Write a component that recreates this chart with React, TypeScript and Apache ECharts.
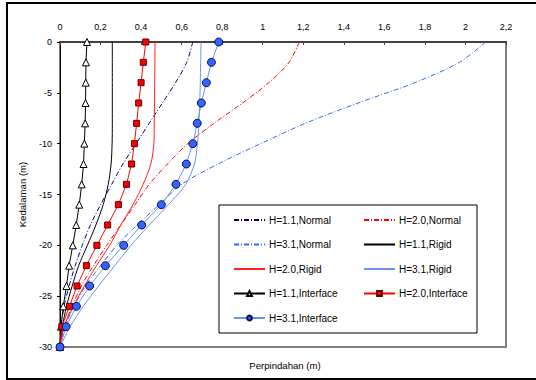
import React, { useEffect, useRef } from "react";
import * as echarts from "echarts";

const depths = [0, -2, -4, -6, -8, -10, -12, -14, -16, -18, -20, -22, -24, -26, -28, -30];
const xTicks = [0, 0.2, 0.4, 0.6, 0.8, 1, 1.2, 1.4, 1.6, 1.8, 2, 2.2];

const h11Normal = [0.655, 0.625, 0.57, 0.505, 0.44, 0.375, 0.31, 0.255, 0.2, 0.15, 0.11, 0.075, 0.045, 0.02, 0.006, 0];
const h20Normal = [1.18, 1.13, 1.03, 0.9, 0.76, 0.63, 0.53, 0.44, 0.37, 0.3, 0.23, 0.165, 0.105, 0.06, 0.02, 0];
const h31Normal = [2.1, 1.97, 1.75, 1.47, 1.21, 0.99, 0.78, 0.6, 0.49, 0.38, 0.28, 0.2, 0.125, 0.07, 0.025, 0];
const h11Rigid = [0.258, 0.258, 0.258, 0.258, 0.258, 0.257, 0.252, 0.238, 0.213, 0.177, 0.135, 0.092, 0.06, 0.032, 0.012, 0];
const h20Rigid = [0.469, 0.468, 0.467, 0.466, 0.465, 0.463, 0.448, 0.41, 0.36, 0.3, 0.245, 0.18, 0.12, 0.066, 0.02, 0];
const h31Rigid = [0.696, 0.694, 0.692, 0.689, 0.685, 0.678, 0.663, 0.62, 0.535, 0.44, 0.35, 0.27, 0.19, 0.115, 0.05, 0];
const h11Interface = [0.133, 0.128, 0.127, 0.126, 0.124, 0.12, 0.116, 0.107, 0.095, 0.08, 0.063, 0.045, 0.032, 0.016, 0.005, 0];
const h20Interface = [0.423, 0.411, 0.4, 0.388, 0.378, 0.367, 0.353, 0.328, 0.288, 0.235, 0.182, 0.13, 0.084, 0.047, 0.009, 0];
const h31Interface = [0.783, 0.747, 0.722, 0.697, 0.677, 0.655, 0.623, 0.572, 0.5, 0.403, 0.314, 0.224, 0.146, 0.081, 0.03, 0];

const legendCol1 = ["H=1.1,Normal", "H=3.1,Normal", "H=2.0,Rigid", "H=1.1,Interface", "H=3.1,Interface"];
const legendCol2 = ["H=2.0,Normal", "H=1.1,Rigid", "H=3.1,Rigid", "H=2.0,Interface"];

const FONT = "Liberation Sans, Arial, sans-serif";
const dashDot = [5, 2, 1, 2];

function pts(vals: number[]) {
  return vals.map((v, i) => [v, depths[i]]);
}

function legendItems(names: string[]) {
  return names.map((n) =>
    n.indexOf("Interface") >= 0 ? { name: n } : { name: n, itemStyle: { opacity: 0 } }
  );
}

export default function App() {
  const ref = useRef<HTMLDivElement>(null);
  useEffect(() => {
    document.body.style.margin = "0";
    const chart = echarts.init(ref.current!, null, { renderer: "svg" });
    const lineSeries = (name: string, vals: number[], color: string, type: any, width = 1) => ({
      name,
      type: "line",
      data: pts(vals),
      symbol: "none",
      smooth: 0.3,
      lineStyle: { color, width, type },
      itemStyle: { color },
      z: 2,
    });
    const markerSeries = (name: string, vals: number[], lineColor: string, symbol: string, size: number, fill: string, border: string) => ({
      name,
      type: "line",
      data: pts(vals),
      symbol,
      symbolSize: size,
      showSymbol: true,
      lineStyle: { color: lineColor, width: 1 },
      itemStyle: { color: fill, borderColor: border, borderWidth: 1 },
      z: 3,
    });
    const legendBase = {
      orient: "vertical",
      top: 215,
      itemGap: 14.5,
      itemWidth: 31,
      itemHeight: 6,
      padding: 0,
      z: 10,
      textStyle: { fontSize: 10, fontFamily: FONT, color: "#000", padding: [0, 0, 0, -1] },
    };
    chart.setOption({
      animation: false,
      grid: {
        left: 60,
        top: 42,
        width: 446,
        height: 305,
        show: true,
        borderColor: "#808080",
        borderWidth: 2,
      },
      xAxis: {
        type: "value",
        position: "top",
        min: 0,
        max: 2.2,
        interval: 0.2,
        splitLine: { show: false },
        axisLine: { show: true, lineStyle: { color: "#404040", width: 2 } },
        axisTick: { show: true, inside: true, length: 3, lineStyle: { color: "#404040" } },
        axisLabel: {
          margin: 11,
          fontSize: 9,
          fontFamily: FONT,
          color: "#000",
          formatter: (v: number) => String(Number(v.toFixed(1))).replace(".", ","),
        },
      },
      yAxis: {
        type: "value",
        min: -30,
        max: 0,
        interval: 5,
        name: "Kedalaman (m)",
        nameLocation: "middle",
        nameGap: 33,
        nameTextStyle: { fontSize: 9.6, fontFamily: FONT, color: "#000" },
        splitLine: { show: false },
        axisLine: { show: true, onZero: false, lineStyle: { color: "#000", width: 1 } },
        axisTick: { show: true, length: 3, lineStyle: { color: "#000" } },
        axisLabel: { margin: 8, fontSize: 9, fontFamily: FONT, color: "#000" },
      },
      legend: [
        { ...legendBase, left: 233, data: legendItems(legendCol1) },
        { ...legendBase, left: 363, data: legendItems(legendCol2) },
      ],
      graphic: [
        {
          type: "rect",
          z: 8,
          shape: { x: 219, y: 205, width: 258, height: 128 },
          style: { fill: "#fff", stroke: "#000", lineWidth: 1 },
        },
        {
          type: "rect",
          z: 20,
          silent: true,
          shape: { x: 7, y: 3, width: 540, height: 376 },
          style: { fill: "none", stroke: "#000", lineWidth: 2 },
        },
        {
          type: "text",
          x: 285,
          y: 365,
          style: {
            text: "Perpindahan (m)",
            fontSize: 9.6,
            fontFamily: FONT,
            fill: "#000",
            align: "center",
            verticalAlign: "middle",
          },
        },
      ],
      series: [
        lineSeries("H=1.1,Normal", h11Normal, "#000080", dashDot),
        lineSeries("H=2.0,Normal", h20Normal, "#FF0000", dashDot),
        lineSeries("H=3.1,Normal", h31Normal, "#3366FF", dashDot),
        lineSeries("H=1.1,Rigid", h11Rigid, "#000000", "solid"),
        lineSeries("H=2.0,Rigid", h20Rigid, "#FF2020", "solid"),
        lineSeries("H=3.1,Rigid", h31Rigid, "#6A93F0", "solid"),
        markerSeries("H=1.1,Interface", h11Interface, "#000000", "triangle", 7, "#FFFFFF", "#000000"),
        markerSeries("H=2.0,Interface", h20Interface, "#FF0000", "rect", 6, "#FF0000", "#600000"),
        markerSeries("H=3.1,Interface", h31Interface, "#6A93F0", "circle", 8, "#3366FF", "#0A0A50"),
      ],
    });
    return () => chart.dispose();
  }, []);
  return <div ref={ref} style={{ width: 536, height: 380 }} />;
}
